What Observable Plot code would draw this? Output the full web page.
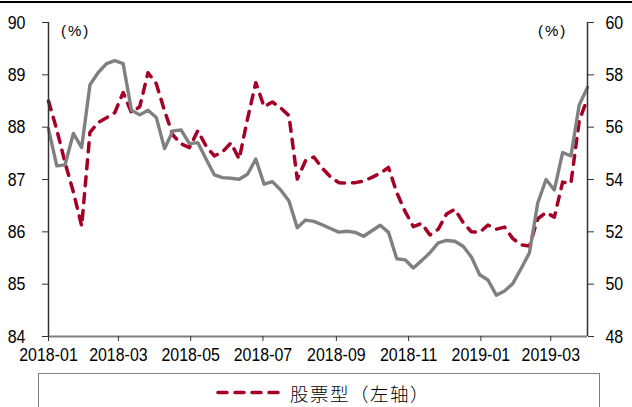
<!DOCTYPE html>
<html>
<head>
<meta charset="utf-8">
<script src="https://cdn.jsdelivr.net/npm/d3@7"></script>
<script src="https://cdn.jsdelivr.net/npm/@observablehq/plot@0.6"></script>
<style>
  html, body { margin: 0; padding: 0; background: #fff; }
  #wrap { position: relative; width: 632px; height: 407px; overflow: hidden; background: #fff; }
  #rule { position: absolute; left: 0; top: 1px; width: 632px; height: 2px; background: #000; }
  #chart { position: absolute; left: 0; top: 0; }
  .unit { position: absolute; top: 22px; font-family: "Liberation Sans", Arial, sans-serif; font-size: 15px; letter-spacing: 2px; color: #000; }
  #legend { position: absolute; left: 38px; top: 373px; width: 562px; height: 60px; border: 1.5px solid #808080; box-sizing: border-box; }
  #legend svg { position: absolute; left: 0; top: 0; }
  #legend .lab { position: absolute; left: 251px; top: 6px; font-family: "Noto Sans CJK SC", sans-serif; font-size: 18.5px; font-weight: 300; letter-spacing: 1.5px; color: #000; white-space: nowrap; }
</style>
</head>
<body>
<div id="wrap">
  <div id="chart"></div>
  <div id="rule"></div>
  <div class="unit" style="left:61px;">(%)</div>
  <div class="unit" style="left:538px;">(%)</div>
  <div id="legend">
    <svg width="560" height="40"><line x1="179" y1="18.5" x2="245" y2="18.5" stroke="#a50026" stroke-width="3.5" stroke-dasharray="9,8" stroke-linecap="round"/></svg>
    <div class="lab">股票型（左轴）</div>
  </div>
</div>
<script>
// Weekly observation dates
const dates = [
  "2018-01-01","2018-01-08","2018-01-15","2018-01-22","2018-01-29","2018-02-05","2018-02-12","2018-02-19","2018-02-26",
  "2018-03-05","2018-03-12","2018-03-19","2018-03-26","2018-04-02","2018-04-09","2018-04-16","2018-04-23","2018-04-30",
  "2018-05-07","2018-05-14","2018-05-21","2018-05-28","2018-06-04","2018-06-11","2018-06-18","2018-06-25",
  "2018-07-02","2018-07-09","2018-07-16","2018-07-23","2018-07-30","2018-08-06","2018-08-13","2018-08-20","2018-08-27",
  "2018-09-03","2018-09-10","2018-09-17","2018-09-24","2018-10-01","2018-10-08","2018-10-15","2018-10-22","2018-10-29",
  "2018-11-05","2018-11-12","2018-11-19","2018-11-26","2018-12-03","2018-12-10","2018-12-17","2018-12-24","2018-12-31",
  "2019-01-07","2019-01-14","2019-01-21","2019-01-28","2019-02-04","2019-02-11","2019-02-18","2019-02-25",
  "2019-03-04","2019-03-11","2019-03-18","2019-03-25","2019-04-01"
];
// 股票型 (left axis, %)
const equityShare = [
  88.50, 87.95, 87.32, 86.76, 86.11, 87.90, 88.09, 88.18, 88.28, 88.66,
  88.28, 88.39, 89.04, 88.83, 88.31, 87.85, 87.68, 87.61, 87.93, 87.64,
  87.45, 87.53, 87.70, 87.39, 88.16, 88.85, 88.39, 88.48, 88.37, 88.22,
  87.01, 87.36, 87.43, 87.22, 87.05, 86.94, 86.93, 86.94, 86.97, 87.04,
  87.12, 87.23, 86.75, 86.39, 86.10, 86.16, 85.94, 86.05, 86.34, 86.43,
  86.18, 86.00, 85.99, 86.13, 86.05, 86.09, 85.87, 85.75, 85.73, 86.25,
  86.37, 86.28, 86.95, 86.93, 88.12, 88.55
];
// 混合型 (right axis, %)
const hybridShare = [
  55.93, 54.52, 54.56, 55.76, 55.22, 57.62, 58.09, 58.43, 58.54, 58.43,
  56.65, 56.47, 56.65, 56.37, 55.18, 55.86, 55.89, 55.37, 55.41, 54.78,
  54.18, 54.07, 54.05, 54.01, 54.20, 54.78, 53.82, 53.92, 53.60, 53.18,
  52.16, 52.45, 52.40, 52.27, 52.13, 51.99, 52.02, 51.98, 51.83, 52.04,
  52.25, 51.98, 50.97, 50.93, 50.62, 50.90, 51.20, 51.58, 51.67, 51.64,
  51.45, 51.04, 50.36, 50.16, 49.58, 49.74, 50.03, 50.60, 51.20, 53.10,
  54.00, 53.60, 55.03, 54.90, 56.85, 57.52
];
const leftTicks = [84, 85, 86, 87, 88, 89, 90];
const rightTicks = [48, 50, 52, 54, 56, 58, 60];
const xTickLabels = ["2018-01","2018-03","2018-05","2018-07","2018-09","2018-11","2019-01","2019-03"];
const xDomain = ["2018-01-01", "2019-04-01"];

const leftDomain = [leftTicks[0], leftTicks[leftTicks.length - 1]];
const rightDomain = [rightTicks[0], rightTicks[rightTicks.length - 1]];
const toLeft = d3.scaleLinear().domain(rightDomain).range(leftDomain);
const toRight = toLeft.invert;

const rows = dates.map((d, i) => ({
  date: new Date(d),
  eq: equityShare[i],
  hy: toLeft(hybridShare[i])
}));
const xTicks = xTickLabels.map(s => new Date(s + "-01"));
const x0 = new Date(xDomain[0]), x1 = new Date(xDomain[1]);

const RED = "#a50026", GRAY = "#808080";

const chart = Plot.plot({
  width: 632,
  height: 372,
  marginLeft: 48,
  marginRight: 45,
  marginTop: 22,
  marginBottom: 36,
  style: { fontFamily: "'Liberation Sans', Arial, sans-serif", fontSize: "19px", color: "#000", background: "transparent" },
  x: { type: "utc", domain: [x0, x1] },
  y: { domain: leftDomain },
  marks: [
    Plot.line(rows, { x: "date", y: "eq", stroke: RED, strokeWidth: 3.5, strokeDasharray: "9,8", strokeLinecap: "round" }),
    Plot.line(rows, { x: "date", y: "hy", stroke: GRAY, strokeWidth: 3.4 }),
    Plot.ruleY([leftDomain[0]], { stroke: GRAY, strokeWidth: 2 }),
    Plot.ruleX([x0], { stroke: "#333", strokeWidth: 1.5 }),
    Plot.ruleX([x1], { stroke: "#333", strokeWidth: 1.5 }),
    Plot.axisY(leftTicks, { anchor: "left", tickSize: 6, tickPadding: 17, label: null, stroke: "#333", tickFormat: d => String(d) }),
    Plot.axisY(leftTicks, { anchor: "right", tickSize: 6, tickPadding: 12, label: null, stroke: "#333", tickFormat: t => String(Math.round(toRight(t))) }),
    Plot.axisX(xTicks, { anchor: "bottom", tickSize: 5, tickPadding: 6, label: null, stroke: "#333", tickFormat: d3.utcFormat("%Y-%m") })
  ]
});
document.getElementById("chart").appendChild(chart);

// condense tick labels horizontally like the original (keep vertical offsets intact)
chart.querySelectorAll('g[aria-label$="tick label"] text').forEach(t => {
  const xa = t.getAttribute("x");
  let pre = "";
  if (xa !== null && /^-?[\d.]+$/.test(xa)) { pre = `translate(${xa},0) `; t.setAttribute("x", 0); }
  const tr = t.getAttribute("transform") || "";
  t.setAttribute("transform", `${tr} ${pre}scale(0.84,1)`);
});
</script>
</body>
</html>
